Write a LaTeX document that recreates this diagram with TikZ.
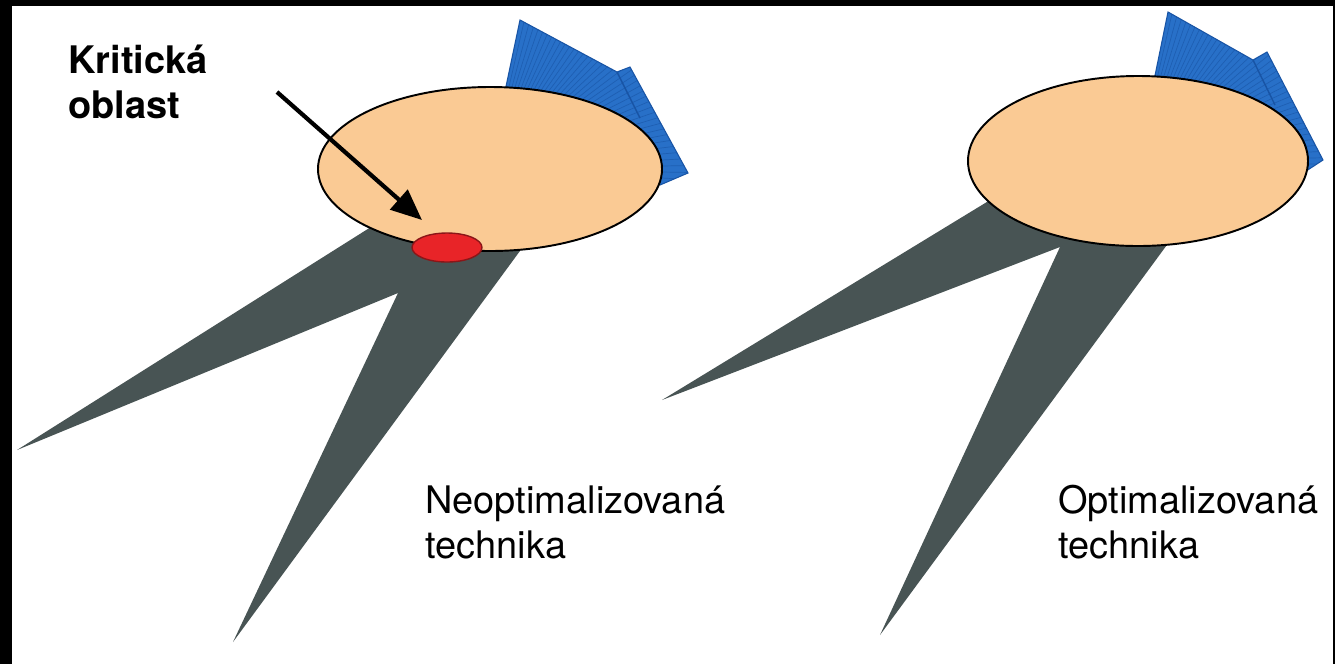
\documentclass[tikz,border=0pt]{standalone}
\usepackage{fontspec}
\setmainfont{TeX Gyre Heros}
\usetikzlibrary{arrows.meta}

\definecolor{skin}{RGB}{250,202,148}
\definecolor{shade}{RGB}{72,84,84}
\definecolor{fan}{RGB}{40,112,200}
\definecolor{fanline}{RGB}{24,84,165}
\definecolor{spot}{RGB}{232,36,40}

\tikzset{
  head/.style={fill=skin,draw=black,line width=1.1pt},
  leg/.style={fill=shade},
  fin/.style={fill=fan,draw=fanline,line width=0.6pt},
  caption/.style={anchor=base west,align=left,inner sep=0pt,
    font=\fontsize{21.6}{25.6}\selectfont},
}

\begin{document}
\begin{tikzpicture}[x=0.02cm,y=-0.02cm]
  % frame
  \fill[black] (0,0) rectangle (1335,664);
  \fill[white] (12,6) rectangle (1333,664);

  % left one, legs wide apart
  \coordinate (lc) at (490,169);
  \fill[leg] (17,450) -- (390,215) -- (450,215) -- (528,240)
    -- (233,642) -- (398,293) -- cycle;
  \fill[fin] (500,115) -- (520,20) -- (617,72) -- (630,67)
    -- (688,173) -- (660,185) -- cycle;
  \begin{scope}
    \clip (500,115) -- (520,20) -- (617,72) -- (630,67)
      -- (688,173) -- (660,185) -- cycle;
    \foreach \a in {-95,-93,...,15}
      \draw[fanline,line width=0.4pt,opacity=0.6] (lc) -- ++(\a:260);
    \draw[fanline,line width=0.8pt] (617,72) -- (640,118);
  \end{scope}
  \draw[head] (lc) ellipse [x radius=172, y radius=82];
  \draw[fill=spot,draw=spot!60!black,line width=0.8pt]
    (447,247.5) ellipse [x radius=35, y radius=14.5];

  % right one, legs closer together
  \coordinate (rc) at (1138,161);
  \fill[leg] (662,400) -- (1000,194) -- (1100,200) -- (1172,238)
    -- (880,635) -- (1060,247) -- cycle;
  \fill[fin] (1150,100) -- (1168,12) -- (1253,60) -- (1267,52)
    -- (1323,160) -- (1300,175) -- cycle;
  \begin{scope}
    \clip (1150,100) -- (1168,12) -- (1253,60) -- (1267,52)
      -- (1323,160) -- (1300,175) -- cycle;
    \foreach \a in {-95,-93,...,15}
      \draw[fanline,line width=0.4pt,opacity=0.6] (rc) -- ++(\a:260);
    \draw[fanline,line width=0.8pt] (1253,60) -- (1275,105);
  \end{scope}
  \draw[head] (rc) ellipse [x radius=170, y radius=85];

  % labels
  \node[caption,font=\fontsize{21.6}{25.6}\selectfont\bfseries] (krit) at (68,118) {Kritická\\oblast};
  \node[caption] (neo) at (425,558) {Neoptimalizovaná\\technika};
  \node[caption] (opt) at (1058,558) {Optimalizovaná\\technika};

  \coordinate (arrtail) at (277,92);
  \coordinate (arrtip) at (422,220);
  \draw[line width=2.4pt,-{Triangle[length=0.62cm,width=0.52cm]}] (arrtail) -- (arrtip);
\end{tikzpicture}
\end{document}
